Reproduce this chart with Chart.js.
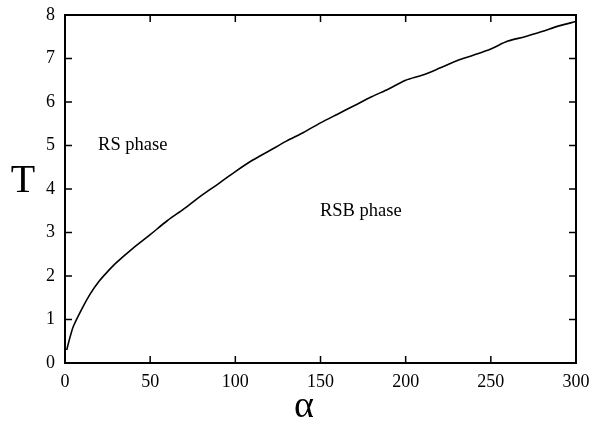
<!DOCTYPE html>
<html>
<head>
<meta charset="utf-8">
<script src="https://cdn.jsdelivr.net/npm/chart.js@4"></script>
<style>
  html, body { margin: 0; padding: 0; background: #fff; }
  #wrap { width: 590px; height: 422px; }
</style>
</head>
<body>
<div id="wrap"><canvas id="phaseChart" width="590" height="422"></canvas></div>
<script>
// values
const alpha = [1, 3, 5, 10, 15, 20, 25, 30, 40, 50, 60, 70, 80, 90, 100, 110, 120, 130, 140, 150,
  160, 170, 180, 190, 200, 210, 220, 230, 240, 250, 260, 270, 280, 290, 300];
const temp = [0.3, 0.6, 0.85, 1.25, 1.6, 1.88, 2.1, 2.3, 2.64, 2.95, 3.27, 3.55, 3.85, 4.12, 4.4, 4.66, 4.88, 5.1, 5.3, 5.52,
  5.72, 5.92, 6.12, 6.3, 6.5, 6.62, 6.78, 6.95, 7.08, 7.22, 7.4, 7.5, 7.62, 7.75, 7.85];
const xTicks = [0, 50, 100, 150, 200, 250, 300];
const yTicks = [0, 1, 2, 3, 4, 5, 6, 7, 8];
const regionLabels = [
  { text: "RS phase", x: 19.4, y: 5.0 },
  { text: "RSB phase", x: 149.7, y: 3.5 }
];

const serif = "'Liberation Serif', 'DejaVu Serif', serif";

let canvasElement = document.querySelector("#phaseChart");

// box, inward ticks, axis titles, region labels
const framePlugin = {
  id: "frame",
  afterDraw(chart) {
    const ctx = chart.ctx;
    const a = chart.chartArea;
    const xs = chart.scales.x;
    const ys = chart.scales.y;
    ctx.save();
    ctx.strokeStyle = "#000";
    ctx.lineWidth = 2;
    ctx.strokeRect(a.left, a.top, a.right - a.left, a.bottom - a.top);
    ctx.lineWidth = 1.5;
    const len = 7;
    ctx.beginPath();
    xTicks.forEach(v => {
      const px = xs.getPixelForValue(v);
      ctx.moveTo(px, a.bottom); ctx.lineTo(px, a.bottom - len);
      ctx.moveTo(px, a.top); ctx.lineTo(px, a.top + len);
    });
    yTicks.forEach(v => {
      const py = ys.getPixelForValue(v);
      ctx.moveTo(a.left, py); ctx.lineTo(a.left + len, py);
      ctx.moveTo(a.right, py); ctx.lineTo(a.right - len, py);
    });
    ctx.stroke();

    ctx.fillStyle = "#000";
    ctx.textAlign = "left";
    ctx.textBaseline = "middle";
    ctx.font = "18.5px " + serif;
    regionLabels.forEach(l => {
      ctx.fillText(l.text, xs.getPixelForValue(l.x), ys.getPixelForValue(l.y));
    });

    ctx.textAlign = "center";
    ctx.textBaseline = "alphabetic";
    ctx.font = "40px " + serif;
    ctx.fillText("T", 23, 192);
    ctx.font = "38px " + serif;
    ctx.fillText("\u03B1", 304, 417);
    ctx.restore();
  }
};

let config = {
  type: "scatter",
  data: {
    datasets: [{
      data: alpha.map((a, i) => ({ x: a, y: temp[i] })),
      showLine: true,
      borderColor: "#000",
      borderWidth: 1.6,
      pointRadius: 0,
      tension: 0.3,
      fill: false
    }]
  },
  options: {
    responsive: false,
    animation: false,
    layout: { padding: { top: 15, right: 14, left: 0, bottom: 0 } },
    plugins: { legend: { display: false }, tooltip: { enabled: false } },
    scales: {
      x: {
        type: "linear",
        min: 0, max: 300,
        afterBuildTicks: s => { s.ticks = xTicks.map(v => ({ value: v })); },
        afterFit: s => { s.height = 59; s.paddingLeft = 0; s.paddingRight = 0; },
        grid: { display: false, drawTicks: false },
        border: { display: false },
        ticks: { color: "#000", padding: 8, maxRotation: 0, font: { family: serif, size: 18 } }
      },
      y: {
        type: "linear",
        min: 0, max: 8,
        afterBuildTicks: s => { s.ticks = yTicks.map(v => ({ value: v })); },
        afterFit: s => { s.width = 65; s.paddingTop = 0; s.paddingBottom = 0; },
        grid: { display: false, drawTicks: false },
        border: { display: false },
        ticks: { color: "#000", padding: 10, font: { family: serif, size: 18 } }
      }
    }
  },
  plugins: [framePlugin]
};

let phaseChart = new Chart(canvasElement, config);
</script>
</body>
</html>
